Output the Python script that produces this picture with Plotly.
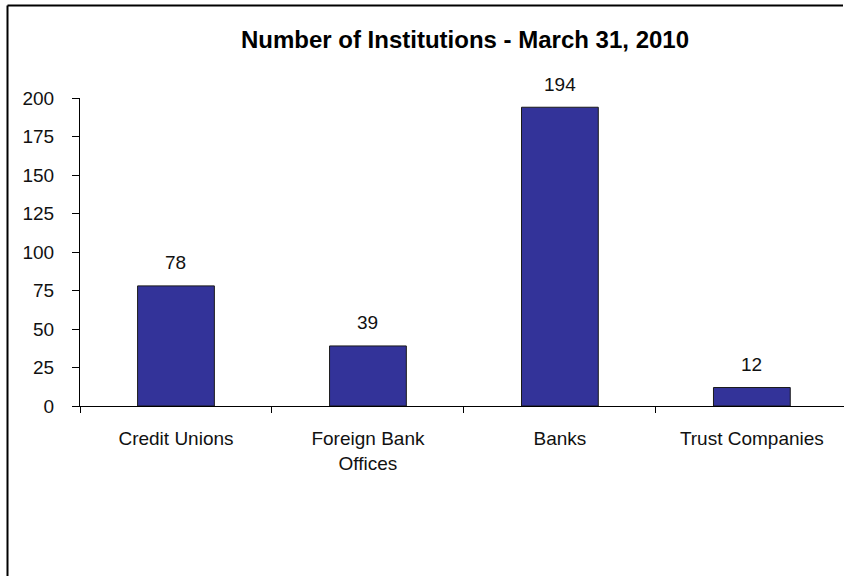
import plotly.graph_objects as go

categories = ["Credit Unions", "Foreign Bank<br>Offices", "Banks", "Trust Companies"]
values = [78, 39, 194, 12]
y_ticks = [0, 25, 50, 75, 100, 125, 150, 175, 200]
title_text = "Number of Institutions - March 31, 2010"

W, H = 844, 576
L, R, T, B = 80, 0, 98, 170
FONT = "Arial, Liberation Sans, sans-serif"
TS = 19

fig = go.Figure()
fig.add_trace(go.Bar(
    x=list(range(len(categories))),
    y=values,
    width=0.4,
    marker=dict(color="#333399", line=dict(color="#1a1a1a", width=1)),
    hoverinfo="skip",
))

for i, v in enumerate(values):
    fig.add_annotation(x=i, y=v, text=str(v), showarrow=False,
                       xref="x", yref="y", yanchor="middle", yshift=23,
                       font=dict(family=FONT, size=TS, color="#111111"))

pw = W - L - R
ph = H - T - B
def px_to_paper_x(px):
    return (px - L) / pw
def px_to_paper_y(py):
    return (H - B - py) / ph

# frame: top and left edges visible
fig.add_shape(type="line", xref="paper", yref="paper",
              x0=px_to_paper_x(7.5), x1=px_to_paper_x(843),
              y0=px_to_paper_y(5.5), y1=px_to_paper_y(5.5),
              line=dict(color="black", width=2), layer="above")
fig.add_shape(type="line", xref="paper", yref="paper",
              x0=px_to_paper_x(7.5), x1=px_to_paper_x(7.5),
              y0=px_to_paper_y(5.5), y1=px_to_paper_y(600),
              line=dict(color="black", width=2), layer="above")

fig.update_layout(
    width=W, height=H,
    margin=dict(l=L, r=R, t=T, b=B, pad=0),
    paper_bgcolor="white", plot_bgcolor="white",
    showlegend=False,
    title=dict(text="<b>" + title_text + "</b>", x=px_to_paper_x(465), xref="paper", xanchor="center",
               y=1 - 40 / H, yref="container", yanchor="middle",
               font=dict(family=FONT, size=24, color="black")),
    font=dict(family=FONT, size=TS, color="#111111"),
)
fig.update_xaxes(
    type="linear",
    range=[-0.5, 3.48],
    tickmode="array", tickvals=list(range(len(categories))), ticktext=categories,
    showgrid=False, zeroline=False,
    showline=True, linecolor="black", linewidth=1,
    ticks="", ticklabelstandoff=15,
    tickfont=dict(family=FONT, size=TS, color="#111111"),
    fixedrange=True,
)
fig.update_xaxes(minor=dict(tickmode="array", tickvals=[-0.5, 0.5, 1.5, 2.5], ticks="outside",
                            ticklen=6, tickcolor="black", showgrid=False))
fig.update_yaxes(
    range=[0, 200],
    tickmode="array", tickvals=y_ticks,
    showgrid=False, zeroline=False,
    showline=True, linecolor="black", linewidth=1,
    ticks="outside", ticklen=7, tickcolor="black", ticklabelstandoff=14,
    tickfont=dict(family=FONT, size=TS, color="#111111"),
    fixedrange=True,
)

fig.write_html("out.html")
